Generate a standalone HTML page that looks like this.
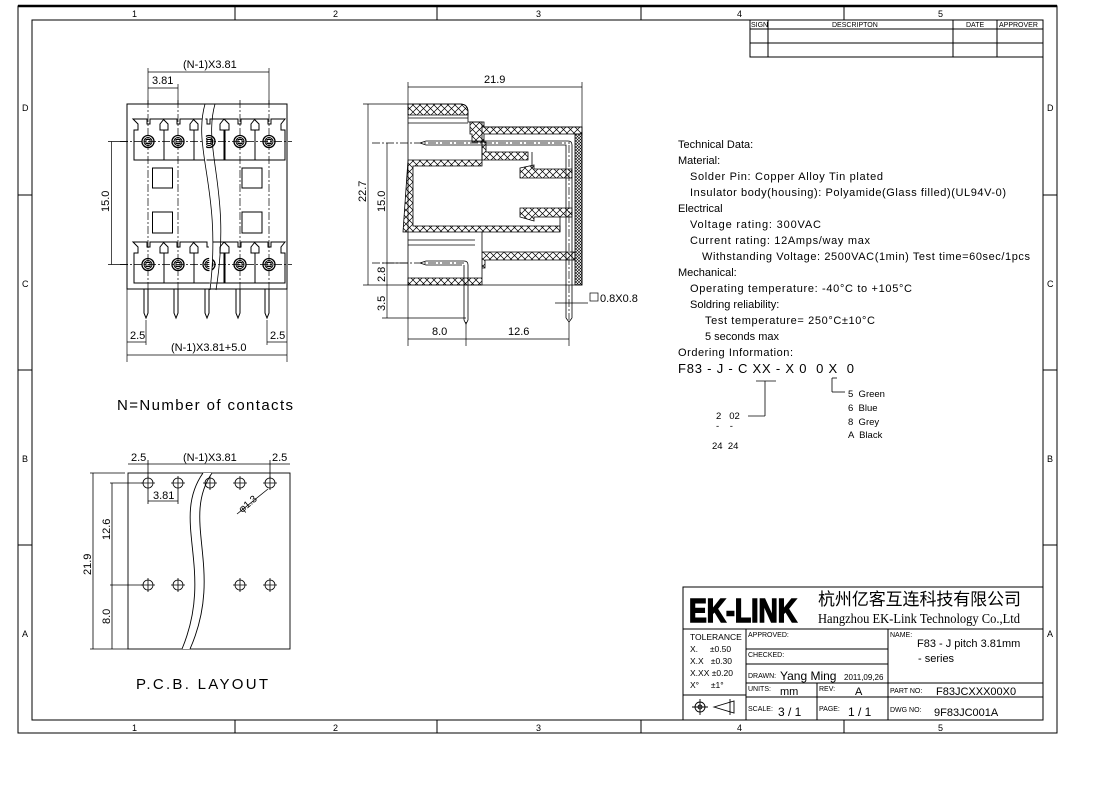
<!DOCTYPE html>
<html><head><meta charset="utf-8"><style>
html,body{margin:0;padding:0;background:#fff;}
svg{display:block;}
text{font-family:"Liberation Sans","Noto Sans CJK SC",sans-serif;fill:#000;white-space:pre;}
</style></head><body>
<svg width="1115" height="798" viewBox="0 0 1115 798" xmlns="http://www.w3.org/2000/svg">
<defs>
<pattern id="h" width="7" height="7" patternUnits="userSpaceOnUse">
<path d="M0 0L7 7M7 0L0 7" stroke="#000" stroke-width="0.7"/>
</pattern>
<pattern id="hd" width="3" height="3" patternUnits="userSpaceOnUse">
<path d="M0 0L3 3M3 0L0 3" stroke="#000" stroke-width="0.6"/>
</pattern>
</defs>
<g fill="none" stroke="#000" stroke-width="1">
<rect x="18" y="6" width="1039" height="727"/>
<line x1="18" y1="6" x2="1057" y2="6" stroke-width="2.5"/>
<rect x="32" y="20" width="1011" height="700"/>
<line x1="235" y1="6" x2="235" y2="20"/><line x1="437" y1="6" x2="437" y2="20"/><line x1="641" y1="6" x2="641" y2="20"/><line x1="844" y1="6" x2="844" y2="20"/>
<line x1="235" y1="720" x2="235" y2="733"/><line x1="437" y1="720" x2="437" y2="733"/><line x1="641" y1="720" x2="641" y2="733"/><line x1="844" y1="720" x2="844" y2="733"/>
<line x1="18" y1="195" x2="32" y2="195"/><line x1="18" y1="370" x2="32" y2="370"/><line x1="18" y1="545" x2="32" y2="545"/>
<line x1="1043" y1="195" x2="1057" y2="195"/><line x1="1043" y1="370" x2="1057" y2="370"/><line x1="1043" y1="545" x2="1057" y2="545"/>
<rect x="750" y="20" width="293" height="37"/>
<line x1="750" y1="29" x2="1043" y2="29"/><line x1="750" y1="43" x2="1043" y2="43"/>
<line x1="768" y1="20" x2="768" y2="57"/><line x1="953" y1="20" x2="953" y2="57"/><line x1="997" y1="20" x2="997" y2="57"/>
</g>
<g font-size="9">
<text x="132" y="17">1</text><text x="333" y="17">2</text><text x="536" y="17">3</text><text x="737" y="17">4</text><text x="938" y="17">5</text>
<text x="132" y="731">1</text><text x="333" y="731">2</text><text x="536" y="731">3</text><text x="737" y="731">4</text><text x="938" y="731">5</text>
<text x="22" y="111">D</text><text x="22" y="287">C</text><text x="22" y="462">B</text><text x="22" y="637">A</text>
<text x="1047" y="111">D</text><text x="1047" y="287">C</text><text x="1047" y="462">B</text><text x="1047" y="637">A</text>
</g>
<g font-size="7">
<text x="751" y="27">SIGN</text><text x="832" y="27">DESCRIPTON</text><text x="966" y="27">DATE</text><text x="999" y="27">APPROVER</text>
</g>

<!-- FRONT VIEW -->
<g fill="none" stroke="#000" stroke-width="1">
<rect x="127" y="104" width="160" height="185"/>
<g id="cell">
<path d="M133 119 h14 v5 h3 v-5 h14 l-4 5 v6 h4 v30 h-30 v-30 h4 v-6z"/>
</g>
<use href="#cell" x="30"/><use href="#cell" x="60"/><use href="#cell" x="91"/><use href="#cell" x="121"/>
<use href="#cell" y="123"/><use href="#cell" x="30" y="123"/><use href="#cell" x="60" y="123"/><use href="#cell" x="91" y="123"/><use href="#cell" x="121" y="123"/>
<rect x="152.5" y="168" width="20" height="20"/><rect x="242" y="168" width="20" height="20"/>
<rect x="152.5" y="212" width="20" height="21"/><rect x="242" y="212" width="20" height="21"/>
</g>
<g fill="none" stroke="#000">
<g id="sc"><circle cx="148" cy="141.5" r="6" stroke-width="1.3"/><circle cx="148" cy="141.5" r="4"/><rect x="146" y="139.5" width="4" height="4"/></g>
<use href="#sc" x="30"/><use href="#sc" x="61"/><use href="#sc" x="92"/><use href="#sc" x="121"/>
<use href="#sc" y="123"/><use href="#sc" x="30" y="123"/><use href="#sc" x="61" y="123"/><use href="#sc" x="92" y="123"/><use href="#sc" x="121" y="123"/>
</g>
<g fill="none" stroke="#000" stroke-width="0.7" stroke-dasharray="8 2 2 2">
<line x1="120" y1="141.5" x2="292" y2="141.5"/><line x1="120" y1="264.5" x2="292" y2="264.5"/>
<line x1="148" y1="100" x2="148" y2="300"/><line x1="178" y1="100" x2="178" y2="300"/><line x1="240" y1="100" x2="240" y2="300"/><line x1="269" y1="100" x2="269" y2="300"/>
</g>
<path d="M205 104 C192 150,222 190,210 290" fill="#fff" stroke="none"/>
<path d="M205 104 C192 150,222 190,210 290 M215 104 C202 150,232 190,216 290" fill="none" stroke="#000" stroke-width="0.8"/>
<g fill="none" stroke="#000" stroke-width="1">
<g id="pin"><path d="M144 289 v24 l2 5 l2 -5 v-24"/></g>
<use href="#pin" x="30"/><use href="#pin" x="61"/><use href="#pin" x="92"/><use href="#pin" x="121"/>
</g>
<g fill="none" stroke="#000" stroke-width="0.7">
<line x1="148" y1="72" x2="269" y2="72"/><line x1="148" y1="88" x2="178" y2="88"/>
<line x1="148" y1="68" x2="148" y2="104"/><line x1="178" y1="84" x2="178" y2="104"/><line x1="269" y1="68" x2="269" y2="104"/>
<line x1="111.5" y1="141.5" x2="111.5" y2="264.5"/><line x1="108" y1="141.5" x2="128" y2="141.5"/><line x1="108" y1="264.5" x2="128" y2="264.5"/>
<line x1="127" y1="289" x2="127" y2="362"/><line x1="287" y1="289" x2="287" y2="362"/><line x1="146" y1="320" x2="146" y2="345"/><line x1="267" y1="320" x2="267" y2="345"/>
<line x1="127" y1="342" x2="146" y2="342"/><line x1="267" y1="342" x2="287" y2="342"/><line x1="127" y1="355" x2="287" y2="355"/>
</g>
<g font-size="11">
<text x="183" y="68">(N-1)X3.81</text><text x="152" y="84">3.81</text>
<text x="130" y="339">2.5</text><text x="270" y="339">2.5</text>
<text x="171" y="351">(N-1)X3.81+5.0</text>
<text transform="translate(109,212) rotate(-90)">15.0</text>
</g>

<!-- SIDE VIEW -->
<g stroke="#000" stroke-width="0.8">
<path d="M408 104 h52 q8 0 8 8 v10 h14 v5 h100 v158 h-174z" fill="none"/>
<path d="M408 104 h52 q8 0 8 8 v3 h-60z" fill="url(#h)"/>
<path d="M470 122 h14 v5 h98 v7 h-98 v8 h-12 v-8 h-2z" fill="url(#h)"/>
<rect x="575" y="134" width="7" height="151" fill="url(#hd)"/>
<path d="M408 160 h74 v-18 h4 v10 h42 v8 h-46 v6 h-69 v60 h147 v6 h-157z" fill="url(#h)"/>
<path d="M520 168 l14 -3 v4 h38 v9 h-52z" fill="url(#h)"/>
<path d="M520 208 h52 v9 h-38 v4 l-14 -4z" fill="url(#h)"/>
<path d="M482 232 v20 h93 v8 h-90 v8 h-3 v10 h-74 v7 h74 z" fill="url(#h)"/>
<line x1="482" y1="127" x2="482" y2="160"/>
<line x1="408" y1="118" x2="468" y2="118"/><line x1="408" y1="123" x2="468" y2="123"/>
<line x1="408" y1="240" x2="475" y2="240"/><line x1="408" y1="245" x2="475" y2="245"/>
<line x1="532" y1="152" x2="532" y2="168"/><line x1="560" y1="217" x2="560" y2="232"/>
</g>
<g fill="none" stroke="#000" stroke-width="0.8">
<path d="M420 143 l6 -2 h142 q4 0 4 4 v173"/><path d="M420 143 l6 2 h140 v173"/>
<path d="M420 263 l6 -2 h38 q4 0 4 4 v55 l-2 4 l-2 -4 v-55"/><path d="M420 263 l6 2 h36"/>
<path d="M566 318 l3 4 l3 -4"/>
</g>
<g fill="none" stroke="#000" stroke-width="0.7" stroke-dasharray="8 2 2 2">
<line x1="372" y1="143" x2="570" y2="143"/><line x1="372" y1="263" x2="466" y2="263"/>
<line x1="569" y1="145" x2="569" y2="320"/>
</g>
<g fill="none" stroke="#000" stroke-width="0.7">
<line x1="408" y1="87" x2="582" y2="87"/><line x1="408" y1="82" x2="408" y2="104"/><line x1="582" y1="82" x2="582" y2="127"/>
<line x1="368" y1="104" x2="368" y2="285"/><line x1="363" y1="104" x2="408" y2="104"/><line x1="363" y1="285" x2="408" y2="285"/>
<line x1="387" y1="143" x2="387" y2="318"/><line x1="382" y1="318" x2="466" y2="318"/>
<line x1="382" y1="263" x2="408" y2="263"/>
<line x1="408" y1="285" x2="408" y2="346"/><line x1="466" y1="322" x2="466" y2="346"/><line x1="569" y1="322" x2="569" y2="346"/>
<line x1="408" y1="339" x2="569" y2="339"/>
<line x1="555" y1="303" x2="588" y2="303"/><rect x="590" y="293" width="8" height="8"/>
</g>
<g font-size="11">
<text x="484" y="83">21.9</text>
<text transform="translate(366,202) rotate(-90)">22.7</text>
<text transform="translate(385,212) rotate(-90)">15.0</text>
<text transform="translate(385,282) rotate(-90)">2.8</text>
<text transform="translate(385,311) rotate(-90)">3.5</text>
<text x="432" y="335">8.0</text><text x="508" y="335">12.6</text>
<text x="600" y="302">0.8X0.8</text>
</g>

<!-- TECH DATA -->
<g font-size="11">
<text x="678" y="148">Technical Data:</text>
<text x="678" y="164">Material:</text>
<text x="690" y="180" textLength="193">Solder Pin: Copper Alloy Tin plated</text>
<text x="690" y="196" textLength="316">Insulator body(housing): Polyamide(Glass filled)(UL94V-0)</text>
<text x="678" y="212">Electrical</text>
<text x="690" y="228" textLength="131">Voltage rating: 300VAC</text>
<text x="690" y="244" textLength="180">Current rating: 12Amps/way max</text>
<text x="702" y="260" textLength="328">Withstanding Voltage: 2500VAC(1min) Test time=60sec/1pcs</text>
<text x="678" y="276">Mechanical:</text>
<text x="690" y="292" textLength="222">Operating temperature: -40°C to +105°C</text>
<text x="690" y="308">Soldring reliability:</text>
<text x="705" y="324" textLength="170">Test temperature= 250°C±10°C</text>
<text x="705" y="340">5 seconds max</text>
<text x="678" y="356" textLength="115">Ordering Information:</text>
<text x="678" y="373" font-size="13" textLength="176">F83 - J - C XX - X 0  0 X  0</text>
</g>
<g fill="none" stroke="#000" stroke-width="0.8">
<line x1="756" y1="381" x2="776" y2="381"/><line x1="765" y1="381" x2="765" y2="416"/><line x1="748" y1="416" x2="765" y2="416"/>
<line x1="832" y1="378" x2="832" y2="392"/><line x1="832" y1="392" x2="845" y2="392"/><line x1="832" y1="378" x2="837" y2="378"/>
</g>
<g font-size="9.5">
<text x="848" y="397">5  Green</text><text x="848" y="411">6  Blue</text><text x="848" y="425">8  Grey</text><text x="848" y="438">A  Black</text>
<text x="716" y="419">2   02</text><text x="716" y="429">-    -</text><text x="712" y="449">24  24</text>
</g>
<text x="117" y="410" font-size="15" textLength="176">N=Number of contacts</text>
<text x="136" y="689" font-size="15" textLength="132">P.C.B. LAYOUT</text>

<!-- PCB LAYOUT -->
<g fill="none" stroke="#000" stroke-width="0.9">
<rect x="128" y="473" width="162" height="176"/>
</g>
<path d="M203 473 C170 520,215 570,182 649 L190 649 C225 570,180 520,212 473Z" fill="#fff" stroke="none"/>
<path d="M203 473 C170 520,215 570,182 649 M212 473 C180 520,225 570,190 649" fill="none" stroke="#000" stroke-width="0.9"/>
<g fill="none" stroke="#000" stroke-width="0.8">
<g id="ho"><circle cx="148" cy="483" r="5"/><path d="M141 483h14M148 476v14"/></g>
<use href="#ho" x="30"/><use href="#ho" x="62"/><use href="#ho" x="92"/><use href="#ho" x="122"/>
<use href="#ho" y="102"/><use href="#ho" x="30" y="102"/><use href="#ho" x="92" y="102"/><use href="#ho" x="122" y="102"/>
<line x1="128" y1="464" x2="290" y2="464" stroke-width="0.7"/>
<line x1="148" y1="460" x2="148" y2="478"/><line x1="270" y1="460" x2="270" y2="478"/>
<line x1="148" y1="501" x2="178" y2="501"/><line x1="148" y1="490" x2="148" y2="504"/><line x1="178" y1="490" x2="178" y2="504"/>
<line x1="93" y1="473" x2="93" y2="649"/><line x1="90" y1="473" x2="125" y2="473"/><line x1="90" y1="649" x2="128" y2="649"/>
<line x1="112" y1="483" x2="112" y2="649"/><line x1="110" y1="483" x2="143" y2="483"/><line x1="110" y1="585" x2="143" y2="585"/>
<line x1="237" y1="514" x2="268" y2="489"/>
</g>
<g font-size="11">
<text x="131" y="461">2.5</text><text x="183" y="461">(N-1)X3.81</text><text x="272" y="461">2.5</text>
<text x="153" y="499">3.81</text>
<text transform="translate(91,575) rotate(-90)">21.9</text>
<text transform="translate(110,540) rotate(-90)">12.6</text>
<text transform="translate(110,624) rotate(-90)">8.0</text>
<text transform="translate(242,513) rotate(-40)" font-size="10">φ1.3</text>
</g>

<!-- TITLE BLOCK -->
<g fill="none" stroke="#000" stroke-width="1">
<rect x="683" y="587" width="360" height="133"/>
<line x1="683" y1="629" x2="1043" y2="629"/>
<line x1="746" y1="629" x2="746" y2="720"/><line x1="888" y1="629" x2="888" y2="720"/>
<line x1="746" y1="649" x2="888" y2="649"/><line x1="746" y1="664" x2="888" y2="664"/><line x1="746" y1="683" x2="1043" y2="683"/>
<line x1="746" y1="697" x2="1043" y2="697"/><line x1="683" y1="695" x2="746" y2="695"/>
<line x1="817" y1="683" x2="817" y2="720"/>
</g>
<text x="689" y="622" font-size="33" font-weight="bold" textLength="108" lengthAdjust="spacingAndGlyphs" stroke="#000" stroke-width="1.6" style="font-family:'Liberation Sans',sans-serif">EK-LINK</text>
<text x="818" y="605" font-size="17" textLength="203" style="font-family:'Liberation Sans','Noto Sans CJK SC',sans-serif">杭州亿客互连科技有限公司</text>
<text x="818" y="623" font-size="14" textLength="202" lengthAdjust="spacingAndGlyphs" style="font-family:'Liberation Serif',serif">Hangzhou EK-Link Technology Co.,Ltd</text>
<g font-size="8.5">
<text x="690" y="640">TOLERANCE</text>
<text x="690" y="652">X.     ±0.50</text><text x="690" y="664">X.X   ±0.30</text><text x="690" y="676">X.XX ±0.20</text><text x="690" y="688">X°     ±1°</text>
<text x="748" y="637" font-size="7">APPROVED:</text><text x="748" y="657" font-size="7">CHECKED:</text>
<text x="748" y="678" font-size="7">DRAWN:</text><text x="748" y="691" font-size="7">UNITS:</text><text x="748" y="711" font-size="7">SCALE:</text>
<text x="819" y="691" font-size="7">REV:</text><text x="819" y="711" font-size="7">PAGE:</text>
<text x="890" y="637" font-size="7">NAME:</text><text x="890" y="693" font-size="7">PART NO:</text><text x="890" y="712" font-size="7">DWG NO:</text>
</g>
<text x="780" y="680" font-size="12">Yang Ming</text><text x="844" y="680" font-size="8">2011,09,26</text>
<text x="780" y="695" font-size="11">mm</text><text x="855" y="695" font-size="11">A</text>
<text x="778" y="716" font-size="12">3 / 1</text><text x="848" y="716" font-size="12">1 / 1</text>
<text x="917" y="647" font-size="11">F83 - J pitch 3.81mm</text><text x="918" y="662" font-size="11">- series</text>
<text x="936" y="695" font-size="11">F83JCXXX00X0</text><text x="934" y="716" font-size="11">9F83JC001A</text>
<g fill="none" stroke="#000" stroke-width="0.9">
<circle cx="700" cy="707" r="5"/><circle cx="700" cy="707" r="2"/><path d="M692 707h16M700 699v16"/>
<path d="M714 707 l20 -6 v12z M730 699 v16"/>
</g>
</svg>
</body></html>
